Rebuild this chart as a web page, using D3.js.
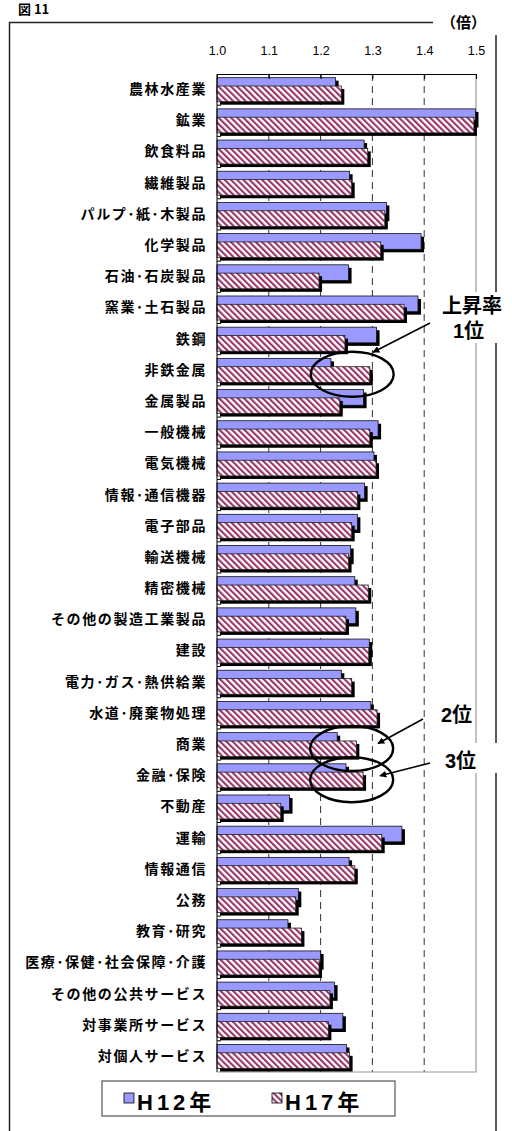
<!DOCTYPE html>
<html>
<head>
<meta charset="utf-8">
<script src="https://cdn.jsdelivr.net/npm/d3@7"></script>
<style>
  body { margin: 0; background: #fff; }
  svg { display: block; }
</style>
</head>
<body>
<svg id="chart" width="512" height="1131"></svg>
<script>
const width = 512;
const height = 1131;
const margin = { top: 74, left: 217, right: 36, bottom: 59 };

// data (倍)
const categories = [
  "農林水産業", "鉱業", "飲食料品", "繊維製品", "パルプ･紙･木製品", "化学製品",
  "石油･石炭製品", "窯業･土石製品", "鉄鋼", "非鉄金属", "金属製品", "一般機械",
  "電気機械", "情報･通信機器", "電子部品", "輸送機械", "精密機械",
  "その他の製造工業製品", "建設", "電力･ガス･熱供給業", "水道･廃棄物処理", "商業",
  "金融･保険", "不動産", "運輸", "情報通信", "公務", "教育･研究",
  "医療･保健･社会保障･介護", "その他の公共サービス", "対事業所サービス", "対個人サービス"
];
const h12 = [1.229, 1.499, 1.284, 1.256, 1.327, 1.394, 1.254, 1.388, 1.308, 1.220, 1.283, 1.311,
  1.303, 1.285, 1.271, 1.258, 1.266, 1.268, 1.294, 1.240, 1.297, 1.232, 1.249, 1.140,
  1.357, 1.255, 1.157, 1.137, 1.200, 1.227, 1.243, 1.250];
const h17 = [1.240, 1.496, 1.291, 1.260, 1.324, 1.316, 1.197, 1.361, 1.247, 1.295, 1.237, 1.295,
  1.307, 1.271, 1.260, 1.254, 1.292, 1.249, 1.293, 1.260, 1.309, 1.269, 1.282, 1.123,
  1.318, 1.266, 1.152, 1.163, 1.197, 1.218, 1.215, 1.256];
const xTicks = [1.0, 1.1, 1.2, 1.3, 1.4, 1.5];
const seriesNames = ["H12年", "H17年"];
// ranking annotations: category, label
const ranks = [
  { cat: "非鉄金属", label: "1位" },
  { cat: "商業", label: "2位" },
  { cat: "金融･保険", label: "3位" }
];

const jpFont = "'Noto Sans CJK JP', 'Noto Sans', sans-serif";
const latFont = "'Liberation Sans', 'Noto Sans CJK JP', sans-serif";

const svg = d3.select("#chart");
const chartWidth = width - margin.left - margin.right;
const chartHeight = height - margin.top - margin.bottom;

const defs = svg.append("defs");
defs.append("pattern")
  .attr("id", "hatch")
  .attr("patternUnits", "userSpaceOnUse")
  .attr("width", 4.4)
  .attr("height", 4.4)
  .attr("patternTransform", "rotate(-45)")
  .call(p => {
    p.append("rect").attr("width", 4.4).attr("height", 4.4).attr("fill", "#fff");
    p.append("rect").attr("width", 2.1).attr("height", 4.4).attr("fill", "#993366");
  });
defs.append("marker")
  .attr("id", "arrow")
  .attr("viewBox", "0 0 10 10")
  .attr("refX", 9).attr("refY", 5)
  .attr("markerWidth", 7).attr("markerHeight", 7)
  .attr("markerUnits", "userSpaceOnUse")
  .attr("orient", "auto")
  .append("path")
  .attr("d", "M0,0 L10,5 L0,10 z")
  .attr("fill", "#000");

svg.append("rect").attr("width", width).attr("height", height).attr("fill", "#fff");

// outer frame
svg.append("rect")
  .attr("x", 9.5).attr("y", 22.5)
  .attr("width", 486.5).attr("height", 1140)
  .attr("fill", "none")
  .attr("stroke", "#222")
  .attr("stroke-width", 1.5);

// figure title (mostly above the frame)
svg.append("text")
  .attr("x", 18).attr("y", 14)
  .attr("font-family", jpFont)
  .attr("font-weight", 700)
  .attr("font-size", 13)
  .text("図 11");

const g = svg.append("g")
  .attr("transform", `translate(${margin.left},${margin.top})`);

const x = d3.scaleLinear().domain([1.0, 1.5]).range([0, chartWidth]);
const y = d3.scaleBand().domain(categories).range([0, chartHeight]);
const step = y.step();
const barH = step * 0.503;
const off12 = step * 0.118;
const off17 = step * 0.385;
const shadow = 3;

// gridlines
g.selectAll(".grid")
  .data(xTicks.slice(1, -1))
  .join("line")
  .attr("x1", d => x(d)).attr("x2", d => x(d))
  .attr("y1", 0).attr("y2", chartHeight)
  .attr("stroke", "#333")
  .attr("stroke-width", 1)
  .attr("stroke-dasharray", "7 5");

// plot border right / bottom
g.append("path")
  .attr("d", `M${chartWidth},0 V${chartHeight} H0`)
  .attr("fill", "none")
  .attr("stroke", "#999")
  .attr("stroke-width", 1.2);

// bars
const rows = categories.map((c, i) => ({ c, a: h12[i], b: h17[i] }));
const grp = g.selectAll(".cat").data(rows).join("g").attr("class", "cat");

grp.append("rect")
  .attr("x", x(1) + shadow).attr("y", d => y(d.c) + off12 + shadow)
  .attr("width", d => x(d.a) - x(1)).attr("height", barH)
  .attr("fill", "#000");
grp.append("rect")
  .attr("x", x(1)).attr("y", d => y(d.c) + off12)
  .attr("width", d => x(d.a) - x(1)).attr("height", barH)
  .attr("fill", "#9999ff")
  .attr("stroke", "#111").attr("stroke-width", 0.8);
grp.append("rect")
  .attr("x", x(1) + shadow).attr("y", d => y(d.c) + off17 + shadow)
  .attr("width", d => x(d.b) - x(1)).attr("height", barH)
  .attr("fill", "#000");
grp.append("rect")
  .attr("x", x(1)).attr("y", d => y(d.c) + off17)
  .attr("width", d => x(d.b) - x(1)).attr("height", barH)
  .attr("fill", "url(#hatch)")
  .attr("stroke", "#222").attr("stroke-width", 0.8);

// top axis, ticks pointing inward
const xAxis = g.append("g")
  .call(d3.axisTop(x).tickValues(xTicks).tickFormat(d3.format(".1f"))
    .tickSizeInner(-5).tickSizeOuter(0).tickPadding(19));
xAxis.select(".domain").attr("stroke", "#000");
xAxis.selectAll(".tick line").attr("stroke", "#000");
xAxis.selectAll("text")
  .attr("font-family", "'Liberation Sans', sans-serif")
  .attr("font-size", 12.5)
  .attr("fill", "#000");

// left axis line and category boundary ticks
g.append("line")
  .attr("x1", 0).attr("x2", 0).attr("y1", 0).attr("y2", chartHeight)
  .attr("stroke", "#000");
g.selectAll(".ctick")
  .data(categories.slice(1))
  .join("line")
  .attr("x1", 0).attr("x2", 4)
  .attr("y1", d => y(d)).attr("y2", d => y(d))
  .attr("stroke", "#000");

// category labels
const yAxis = g.append("g")
  .call(d3.axisLeft(y).tickSize(0).tickPadding(10));
yAxis.select(".domain").remove();
yAxis.selectAll("text")
  .attr("font-family", jpFont)
  .attr("font-weight", 700)
  .attr("font-size", 14)
  .attr("letter-spacing", "1.6px")
  .attr("fill", "#000");

// annotations
const cy = c => margin.top + y(c) + step / 2 + 4;
const ex = margin.left + x(1.26);
svg.selectAll(".ring")
  .data(ranks)
  .join("ellipse")
  .attr("cx", (d, i) => i === 0 ? margin.left + x(1.261) : ex)
  .attr("cy", d => cy(d.cat))
  .attr("rx", 41.5).attr("ry", 22.5)
  .attr("fill", "none")
  .attr("stroke", "#000")
  .attr("stroke-width", 2.4);

// white text boxes covering the frame
[[433, 0, 79, 35], [438, 292, 74, 51], [438, 743, 74, 30]].forEach(b => {
  svg.append("rect")
    .attr("x", b[0]).attr("y", b[1]).attr("width", b[2]).attr("height", b[3])
    .attr("fill", "#fff");
});

svg.append("text")
  .attr("x", 441).attr("y", 28)
  .attr("font-family", jpFont).attr("font-weight", 700).attr("font-size", 15)
  .text("（倍）");

const annoText = (tx, ty, s) => svg.append("text")
  .attr("x", tx).attr("y", ty)
  .attr("font-family", latFont).attr("font-weight", 700).attr("font-size", 20)
  .text(s);
annoText(442, 313, "上昇率");
annoText(453, 338, ranks[0].label);
annoText(441, 722, ranks[1].label);
annoText(445, 768, ranks[2].label);

const arrows = [
  [430, 323, ranks[0].cat, 373],
  [423, 719, ranks[1].cat, 378],
  [430, 763, ranks[2].cat, 380]
];
arrows.forEach(a => {
  svg.append("line")
    .attr("x1", a[0]).attr("y1", a[1])
    .attr("x2", a[3]).attr("y2", cy(a[2]) - 22 + (a[2] === "非鉄金属" ? 0 : (a[2] === "商業" ? 17 : 18)))
    .attr("stroke", "#000")
    .attr("stroke-width", 1.6)
    .attr("marker-end", "url(#arrow)");
});

// legend
const lg = svg.append("g").attr("transform", "translate(102,1081)");
lg.append("rect")
  .attr("width", 293).attr("height", 35)
  .attr("fill", "#fff").attr("stroke", "#555").attr("stroke-width", 1.2);
const items = lg.selectAll(".item")
  .data(seriesNames)
  .join("g")
  .attr("transform", (d, i) => `translate(${22 + i * 148},12)`);
items.append("rect")
  .attr("width", 10).attr("height", 10)
  .attr("fill", (d, i) => i === 0 ? "#9999ff" : "url(#hatch)")
  .attr("stroke", "#000").attr("stroke-width", 0.8);
items.append("text")
  .attr("x", 13).attr("y", 17)
  .attr("font-family", latFont).attr("font-weight", 700).attr("font-size", 22)
  .attr("letter-spacing", "4px")
  .text(d => d);
</script>
</body>
</html>
